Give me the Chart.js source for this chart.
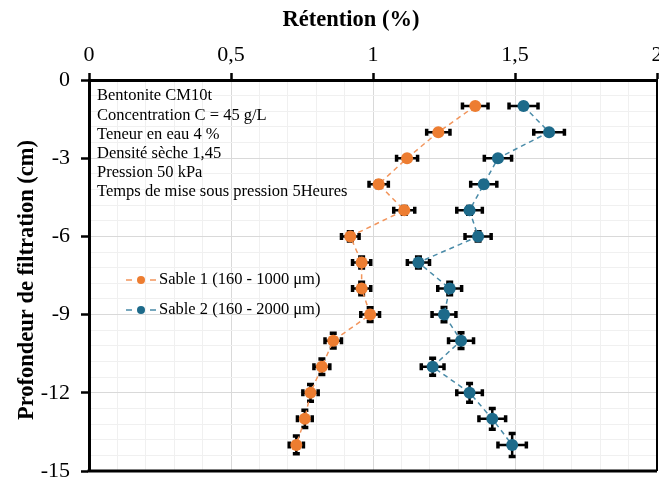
<!DOCTYPE html>
<html>
<head>
<meta charset="utf-8">
<script src="https://cdn.jsdelivr.net/npm/chart.js@4"></script>
<style>
	html, body { margin: 0; padding: 0; background: #fff; }
	#wrap { width: 659px; height: 481px; }
</style>
</head>
<body>
<div id="wrap"><canvas id="retentionChart" width="659" height="481"></canvas></div>
<script>
// profondeur (cm)
const depths = [-1, -2, -3, -4, -5, -6, -7, -8, -9, -10, -11, -12, -13, -14];

// rétention (%)
const sable1 = [1.36, 1.23, 1.12, 1.02, 1.11, 0.92, 0.96, 0.96, 0.99, 0.86, 0.82, 0.78, 0.76, 0.73];
const sable2 = [1.53, 1.62, 1.44, 1.39, 1.34, 1.37, 1.16, 1.27, 1.25, 1.31, 1.21, 1.34, 1.42, 1.49];

// barres d'erreur
const errX1 = [0.045, 0.041, 0.037, 0.034, 0.037, 0.031, 0.032, 0.032, 0.033, 0.029, 0.028, 0.027, 0.026, 0.025];
const errX2 = [0.051, 0.054, 0.048, 0.046, 0.045, 0.046, 0.039, 0.042, 0.042, 0.044, 0.040, 0.045, 0.047, 0.050];
const errY1 = [0.03, 0.06, 0.09, 0.12, 0.15, 0.18, 0.21, 0.24, 0.26, 0.28, 0.30, 0.32, 0.33, 0.34];
const errY2 = [0.03, 0.06, 0.09, 0.12, 0.15, 0.18, 0.21, 0.24, 0.27, 0.30, 0.33, 0.36, 0.40, 0.44];

const seriesLabels = ["Sable 1 (160 - 1000 \u03bcm)", "Sable 2 (160 - 2000 \u03bcm)"];
const infoLines = [
	"Bentonite CM10t",
	"Concentration C = 45 g/L",
	"Teneur en eau 4 %",
	"Densité sèche 1,45",
	"Pression 50 kPa",
	"Temps de mise sous pression 5Heures"
];

const ORANGE = "#ED7D31";
const BLUE = "#1D6A8A";
const ORANGE_LINE = "#F2955C";
const BLUE_LINE = "#4A8BA8";
const SERIF = "'Liberation Serif', 'Times New Roman', serif";

function toPoints(xs) {
	return xs.map((x, i) => ({ x: x, y: depths[i] }));
}

function isMajor(v, step) {
	return Math.abs(v / step - Math.round(v / step)) < 1e-6;
}

// barres d'erreur dessinées derrière les marqueurs
const errorBars = {
	id: "errorBars",
	beforeDatasetsDraw(chart) {
		const ctx = chart.ctx;
		const xs = chart.scales.x, ys = chart.scales.y;
		const errs = [[errX1, errY1], [errX2, errY2]];
		ctx.save();
		ctx.strokeStyle = "#000";
		chart.data.datasets.forEach((ds, d) => {
			ds.data.forEach((p, i) => {
				const px = xs.getPixelForValue(p.x), py = ys.getPixelForValue(p.y);
				const x0 = xs.getPixelForValue(p.x - errs[d][0][i]);
				const x1 = xs.getPixelForValue(p.x + errs[d][0][i]);
				const y0 = ys.getPixelForValue(p.y - errs[d][1][i]);
				const y1 = ys.getPixelForValue(p.y + errs[d][1][i]);
				ctx.lineWidth = 2.5;
				ctx.beginPath();
				ctx.moveTo(x0, py); ctx.lineTo(x1, py);
				ctx.moveTo(px, y0); ctx.lineTo(px, y1);
				ctx.stroke();
				ctx.lineWidth = 3.5;
				ctx.beginPath();
				ctx.moveTo(x0, py - 3.5); ctx.lineTo(x0, py + 3.5);
				ctx.moveTo(x1, py - 3.5); ctx.lineTo(x1, py + 3.5);
				ctx.moveTo(px - 3.5, y0); ctx.lineTo(px + 3.5, y0);
				ctx.moveTo(px - 3.5, y1); ctx.lineTo(px + 3.5, y1);
				ctx.stroke();
			});
		});
		ctx.restore();
	}
};

// titres, cadre, texte d'info et légende
const decorations = {
	id: "decorations",
	afterDraw(chart) {
		const ctx = chart.ctx;
		const a = chart.chartArea;
		ctx.save();

		ctx.strokeStyle = "#000";
		ctx.lineWidth = 3;
		ctx.beginPath();
		ctx.moveTo(a.left - 1.5, a.bottom); ctx.lineTo(a.right, a.bottom);
		ctx.stroke();
		ctx.lineWidth = 2;
		ctx.beginPath();
		ctx.moveTo(a.right, a.top); ctx.lineTo(a.right, a.bottom);
		ctx.stroke();

		ctx.fillStyle = "#000";
		ctx.font = "bold 22.5px " + SERIF;
		ctx.textAlign = "center";
		ctx.textBaseline = "middle";
		ctx.fillText("Rétention (%)", 351, 20);
		ctx.save();
		ctx.translate(27, 280);
		ctx.rotate(-Math.PI / 2);
		ctx.fillText("Profondeur de filtration (cm)", 0, 0);
		ctx.restore();

		ctx.font = "16.5px " + SERIF;
		ctx.textAlign = "left";
		infoLines.forEach((t, i) => ctx.fillText(t, 97, 96 + i * 19.2));

		const lineColors = [ORANGE_LINE, BLUE_LINE];
		const colors = [ORANGE, BLUE];
		seriesLabels.forEach((t, i) => {
			const y = 280 + i * 30;
			ctx.strokeStyle = lineColors[i];
			ctx.lineWidth = 1.5;
			ctx.beginPath();
			ctx.moveTo(126, y); ctx.lineTo(132, y);
			ctx.moveTo(150, y); ctx.lineTo(156, y);
			ctx.stroke();
			ctx.fillStyle = colors[i];
			ctx.beginPath();
			ctx.arc(141, y, 4, 0, Math.PI * 2);
			ctx.fill();
			ctx.fillStyle = "#000";
			ctx.fillText(t, 159, y);
		});
		ctx.restore();
	}
};

const ctx = document.getElementById("retentionChart").getContext("2d");
new Chart(ctx, {
	type: "scatter",
	data: {
		datasets: [
			{
				label: seriesLabels[0],
				data: toPoints(sable1),
				showLine: true,
				borderColor: ORANGE_LINE,
				borderWidth: 1.5,
				borderDash: [5, 4],
				backgroundColor: ORANGE,
				pointBackgroundColor: ORANGE,
				pointBorderWidth: 0,
				pointRadius: 6,
			},
			{
				label: seriesLabels[1],
				data: toPoints(sable2),
				showLine: true,
				borderColor: BLUE_LINE,
				borderWidth: 1.5,
				borderDash: [5, 4],
				backgroundColor: BLUE,
				pointBackgroundColor: BLUE,
				pointBorderWidth: 0,
				pointRadius: 6,
			},
		],
	},
	options: {
		responsive: false,
		animation: false,
		layout: { autoPadding: false, padding: { left: 0, top: 0, right: 2, bottom: 10 } },
		plugins: {
			legend: { display: false },
			tooltip: { enabled: false },
		},
		scales: {
			x: {
				type: "linear",
				position: "top",
				min: 0,
				max: 2,
				afterFit(scale) {
					scale.height = 80;
					scale.paddingLeft = 0;
					scale.paddingRight = 0;
				},
				border: { color: "#000", width: 3 },
				grid: {
					color: (c) => isMajor(c.tick.value, 0.5) ? "#d9d9d9" : "#f0f0f0",
					tickColor: (c) => isMajor(c.tick.value, 0.5) ? "#000" : "rgba(0,0,0,0)",
					tickLength: 7,
					tickWidth: 2.5,
				},
				ticks: {
					stepSize: 0.1,
					autoSkip: false,
					maxRotation: 0,
					padding: 5,
					color: "#000",
					font: { family: SERIF, size: 22 },
					callback: (v) => isMajor(v, 0.5) ? String(Math.round(v * 10) / 10).replace(".", ",") : "",
				},
			},
			y: {
				type: "linear",
				min: -15,
				max: 0,
				afterFit(scale) {
					scale.width = 89;
					scale.paddingTop = 0;
					scale.paddingBottom = 0;
				},
				border: { color: "#000", width: 3 },
				grid: {
					color: (c) => isMajor(c.tick.value, 3) ? "#d9d9d9" : "#f0f0f0",
					tickColor: (c) => isMajor(c.tick.value, 3) ? "#000" : "rgba(0,0,0,0)",
					tickLength: 8,
					tickWidth: 2.5,
				},
				ticks: {
					stepSize: 0.6,
					autoSkip: false,
					padding: 11,
					color: "#000",
					font: { family: SERIF, size: 22 },
					callback: (v) => isMajor(v, 3) ? String(Math.round(v)) : "",
				},
			},
		},
	},
	plugins: [errorBars, decorations],
});
</script>
</body>
</html>
